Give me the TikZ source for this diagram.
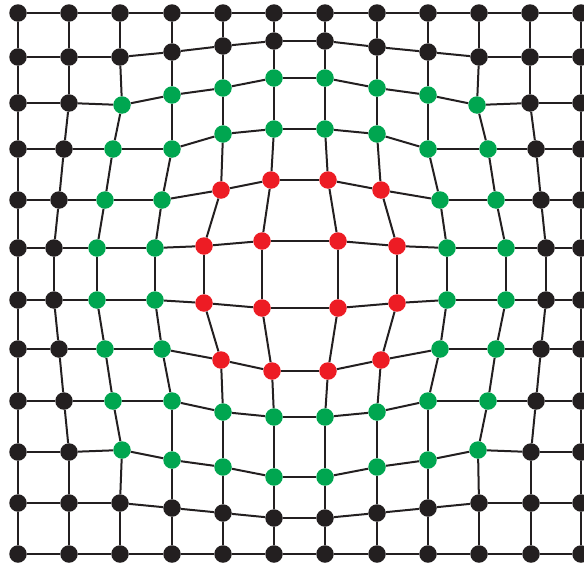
\documentclass[tikz,border=0pt]{standalone}
\definecolor{dk}{HTML}{231F20}
\definecolor{gn}{HTML}{00A650}
\definecolor{rd}{HTML}{ED1C24}
\begin{document}
\begin{tikzpicture}[x=1pt,y=-1pt,
  dot/.style={circle,inner sep=0pt,minimum size=17.5pt},
  k/.style={dot,fill=dk},
  g/.style={dot,fill=gn},
  r/.style={dot,fill=rd},
  link/.style={draw=dk,line width=2pt}]
\useasboundingbox (0,0) rectangle (584,565);
\clip (0,0) rectangle (584,565);
\foreach \x/\y/\st [count=\cc from 0] in {18/13/k,69/13/k,120/13/k,172/13/k,223/13/k,274/13/k,325/13/k,377/13/k,428/13/k,479/13/k,530/13/k,581/13/k}
  \node[\st] (n-0-\cc) at (\x,\y) {};
\foreach \x/\y/\st [count=\cc from 0] in {18/57/k,69/57/k,120/57/k,172/52/k,223/46/k,274/41/k,325/41/k,377/47/k,428/52/k,479/57/k,530/57/k,581/57/k}
  \node[\st] (n-1-\cc) at (\x,\y) {};
\foreach \x/\y/\st [count=\cc from 0] in {18/103/k,69/103/k,122/105/g,172/95/g,223/88/g,274/78/g,325/78/g,377/88/g,428/95/g,477/105/g,530/103/k,581/103/k}
  \node[\st] (n-2-\cc) at (\x,\y) {};
\foreach \x/\y/\st [count=\cc from 0] in {18/149/k,64/149/k,113/149/g,172/149/g,223/134/g,274/129/g,325/129/g,377/134/g,428/149/g,488/149/g,536/149/k,581/149/k}
  \node[\st] (n-3-\cc) at (\x,\y) {};
\foreach \x/\y/\st [count=\cc from 0] in {18/200/k,59/200/k,105/200/g,162/200/g,221/190/r,271/180/r,328/180/r,381/190/r,440/200/g,496/200/g,541/200/k,581/200/k}
  \node[\st] (n-4-\cc) at (\x,\y) {};
\foreach \x/\y/\st [count=\cc from 0] in {18/248/k,54/248/k,97/248/g,155/248/g,204/246/r,262/241/r,338/241/r,397/246/r,447/248/g,506/248/g,546/248/k,581/248/k}
  \node[\st] (n-5-\cc) at (\x,\y) {};
\foreach \x/\y/\st [count=\cc from 0] in {18/300/k,54/300/k,97/300/g,155/300/g,204/303/r,262/308/r,338/308/r,397/303/r,447/300/g,506/300/g,546/300/k,581/300/k}
  \node[\st] (n-6-\cc) at (\x,\y) {};
\foreach \x/\y/\st [count=\cc from 0] in {18/349/k,59/349/k,105/349/g,162/349/g,221/360/r,272/371/r,328/371/r,381/360/r,440/349/g,496/349/g,541/349/k,581/349/k}
  \node[\st] (n-7-\cc) at (\x,\y) {};
\foreach \x/\y/\st [count=\cc from 0] in {18/401/k,64/401/k,113/401/g,172/401/g,223/412/g,274/417/g,325/417/g,377/412/g,428/401/g,488/401/g,536/401/k,581/401/k}
  \node[\st] (n-8-\cc) at (\x,\y) {};
\foreach \x/\y/\st [count=\cc from 0] in {18/452/k,69/452/k,122/450/g,172/460/g,223/467/g,274/477/g,325/477/g,377/467/g,428/460/g,478/450/g,531/452/k,581/452/k}
  \node[\st] (n-9-\cc) at (\x,\y) {};
\foreach \x/\y/\st [count=\cc from 0] in {18/503/k,69/503/k,120/503/k,172/508/k,223/513/k,274/518/k,325/518/k,377/513/k,428/508/k,479/503/k,531/503/k,581/503/k}
  \node[\st] (n-10-\cc) at (\x,\y) {};
\foreach \x/\y/\st [count=\cc from 0] in {18/554/k,69/554/k,120/554/k,172/554/k,223/554/k,274/554/k,325/554/k,377/554/k,428/554/k,479/554/k,531/554/k,581/554/k}
  \node[\st] (n-11-\cc) at (\x,\y) {};
\foreach \ii in {0,...,11}{
  \foreach \jj in {0,...,10}{
    \pgfmathtruncatemacro{\kk}{\jj+1}
    \draw[link] (n-\ii-\jj) -- (n-\ii-\kk);
    \draw[link] (n-\jj-\ii) -- (n-\kk-\ii);
  }
}
\end{tikzpicture}
\end{document}
